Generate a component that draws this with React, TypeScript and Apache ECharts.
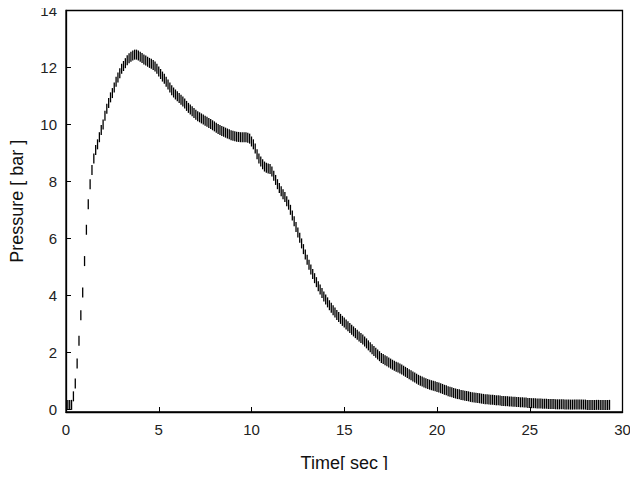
import React, { useEffect, useRef } from "react";
import * as echarts from "echarts";

// Sampling of the recorded curve
const startTime = 0.1;
const timeStep = 0.1;

// Pressure [bar], one row per second (t = k.1 ... k+1.0)
const pressure: number[] = [
  0.15, 0.15, 0.15, 0.45, 0.9, 1.6, 2.4, 3.3, 4.1, 5.2,
  6.3, 7.2, 7.9, 8.4, 8.8, 9.1, 9.3, 9.55, 9.8, 10.0,
  10.3, 10.55, 10.75, 10.95, 11.1, 11.3, 11.5, 11.65, 11.8, 11.95,
  12.05, 12.15, 12.25, 12.32, 12.38, 12.42, 12.45, 12.45, 12.42, 12.38,
  12.33, 12.28, 12.24, 12.2, 12.16, 12.13, 12.09, 12.03, 11.95, 11.86,
  11.77, 11.68, 11.6, 11.5, 11.4, 11.3, 11.2, 11.12, 11.05, 10.99,
  10.93, 10.87, 10.8, 10.73, 10.65, 10.58, 10.52, 10.46, 10.4, 10.34,
  10.29, 10.25, 10.21, 10.17, 10.13, 10.09, 10.05, 10.01, 9.97, 9.93,
  9.88, 9.84, 9.8, 9.77, 9.74, 9.71, 9.68, 9.65, 9.62, 9.6,
  9.58, 9.57, 9.56, 9.55, 9.55, 9.55, 9.55, 9.53, 9.5, 9.4,
  9.3, 9.15, 8.95, 8.8, 8.7, 8.6, 8.52, 8.48, 8.45, 8.43,
  8.35, 8.2, 8.05, 7.9, 7.77, 7.65, 7.55, 7.45, 7.3, 7.18,
  7.0, 6.8, 6.6, 6.4, 6.2, 6.02, 5.82, 5.62, 5.43, 5.25,
  5.07, 4.9, 4.75, 4.6, 4.46, 4.32, 4.2, 4.08, 3.96, 3.85,
  3.75, 3.65, 3.56, 3.47, 3.39, 3.31, 3.24, 3.17, 3.1, 3.04,
  2.97, 2.91, 2.85, 2.79, 2.73, 2.67, 2.61, 2.55, 2.5, 2.45,
  2.38, 2.31, 2.24, 2.17, 2.1, 2.04, 1.98, 1.92, 1.86, 1.8,
  1.76, 1.72, 1.68, 1.64, 1.6, 1.56, 1.52, 1.49, 1.46, 1.43,
  1.39, 1.35, 1.31, 1.27, 1.23, 1.19, 1.15, 1.11, 1.07, 1.03,
  1.0, 0.97, 0.94, 0.91, 0.88, 0.86, 0.84, 0.82, 0.8, 0.78,
  0.76, 0.73, 0.71, 0.68, 0.66, 0.63, 0.61, 0.59, 0.57, 0.55,
  0.53, 0.52, 0.5, 0.49, 0.47, 0.46, 0.45, 0.43, 0.42, 0.41,
  0.4, 0.39, 0.38, 0.37, 0.36, 0.35, 0.35, 0.34, 0.33, 0.33,
  0.32, 0.31, 0.31, 0.3, 0.29, 0.29, 0.28, 0.28, 0.27, 0.27,
  0.26, 0.26, 0.25, 0.25, 0.24, 0.24, 0.23, 0.23, 0.22, 0.22,
  0.21, 0.21, 0.21, 0.2, 0.2, 0.2, 0.19, 0.19, 0.19, 0.18,
  0.18, 0.18, 0.18, 0.17, 0.17, 0.17, 0.17, 0.17, 0.16, 0.16,
  0.16, 0.16, 0.16, 0.16, 0.16, 0.16, 0.16, 0.16, 0.16, 0.16,
  0.15, 0.15, 0.15, 0.15, 0.15, 0.15, 0.15, 0.15, 0.15, 0.15,
  0.15, 0.15, 0.15,
];

const yTickValues = [0, 2, 4, 6, 8, 10, 12, 14];
const xTickValues = [0, 5, 10, 15, 20, 25, 30];

const FONT = "'Liberation Sans', Arial, sans-serif";

export default function App() {
  const ref = useRef<HTMLDivElement>(null);

  useEffect(() => {
    if (!ref.current) return;
    const chart = echarts.init(ref.current, undefined, { renderer: "svg" });
    const points = pressure.map((p, i) => [
      +(startTime + i * timeStep).toFixed(2),
      p,
    ]);
    chart.setOption({
      animation: false,
      backgroundColor: "#ffffff",
      grid: {
        left: 63.5,
        top: 10.5,
        right: 15.5,
        bottom: 66,
        show: true,
        borderColor: "#000",
        borderWidth: 1.3,
        backgroundColor: "transparent",
      },
      xAxis: {
        type: "value",
        min: 0,
        max: 30,
        interval: 5,
        name: "Time[ sec ]",
        nameLocation: "middle",
        nameGap: 42,
        nameTextStyle: { fontFamily: FONT, fontSize: 18, color: "#111" },
        axisLine: { show: true, onZero: false, lineStyle: { color: "#000", width: 1.3 } },
        axisTick: {
          show: true,
          inside: true,
          length: 5,
          customValues: xTickValues,
          lineStyle: { color: "#000", width: 1 },
        },
        axisLabel: {
          fontFamily: FONT,
          fontSize: 15,
          color: "#222",
          margin: 10,
          customValues: xTickValues,
        },
        splitLine: { show: false },
      },
      yAxis: {
        type: "value",
        min: -0.1,
        max: 14,
        name: "Pressure [ bar ]",
        nameLocation: "middle",
        nameGap: 40,
        nameRotate: 90,
        nameTextStyle: {
          fontFamily: FONT,
          fontSize: 18,
          color: "#111",
          padding: [0, 0, 0, 20],
        },
        axisLine: { show: true, onZero: false, lineStyle: { color: "#000", width: 1.3 } },
        axisTick: {
          show: true,
          inside: true,
          length: 5,
          customValues: yTickValues,
          lineStyle: { color: "#000", width: 1 },
        },
        axisLabel: {
          fontFamily: FONT,
          fontSize: 15,
          color: "#222",
          margin: 9,
          customValues: yTickValues,
        },
        splitLine: { show: false },
      },
      series: [
        {
          type: "scatter",
          data: points,
          symbol: "rect",
          symbolSize: [1.3, 10],
          itemStyle: { color: "#000", opacity: 1 },
          silent: true,
        },
      ],
    });
    return () => chart.dispose();
  }, []);

  return <div ref={ref} style={{ width: 638, height: 478, margin: -8 }} />;
}
